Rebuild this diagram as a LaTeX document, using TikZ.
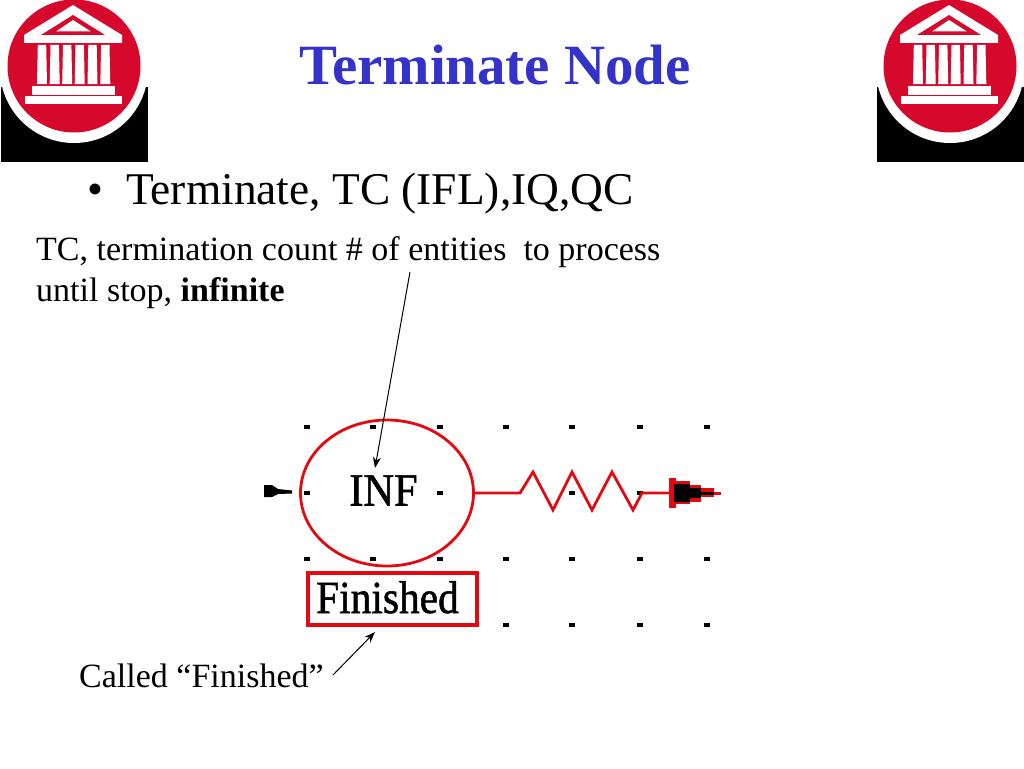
\documentclass[tikz,border=0pt]{standalone}
\usepackage{fontspec}
\setmainfont{Liberation Serif}
\usetikzlibrary{shapes.geometric, positioning, arrows.meta}
\definecolor{slideBlue}{RGB}{51,51,204}
\definecolor{logoRed}{RGB}{214,8,44}
\definecolor{flowRed}{RGB}{226,10,16}
\newcommand{\pixtext}[2]{\scalebox{#1}[1]{\fontsize{46}{46}\selectfont\addfontfeature{FakeBold=1.2} #2}}
\tikzset{
  bodytext/.style={inner sep=0pt, align=left, anchor=base west, text=black},
  callout/.style={draw=black, line width=1pt, -{Stealth[length=11pt, width=8pt]}},
  redline/.style={draw=flowRed, line width=2.8pt},
  gridmark/.style={fill=black, minimum width=6pt, minimum height=3.5pt, inner sep=0pt, outer sep=0pt},
  banklogo/.pic={
    \fill[black] (1,87) rectangle (148,162);
    \fill[white] (74,69) circle (74);
    \fill[logoRed] (74,66) circle (66.5);
    \fill[white] (73,5) -- (122,35) -- (122,43) -- (24,43) -- (24,35) -- cycle;
    \fill[logoRed] (73,15) -- (105,35) -- (41,35) -- cycle;
    \fill[white] (73,20) -- (91,31.5) -- (56,31.5) -- cycle;
    \foreach \colx in {42,54.7,67.2,79.7,92.5,105.3} {
      \fill[white] (\colx-4.2,45) -- (\colx+4.2,45) -- (\colx+5,84) -- (\colx-5,84) -- cycle;
    }
    \fill[white] (32,86) rectangle (115,94.5);
    \fill[white] (25,96) rectangle (122,104);
  }
}

\begin{document}
\begin{tikzpicture}[x=1pt, y=-1pt]
  \useasboundingbox (0,0) rectangle (1024,768);

  \pic at (0,0) {banklogo};
  \pic at (876,0) {banklogo};

  \node[inner sep=0pt, anchor=base, text=slideBlue, font=\fontsize{56.9}{60}\selectfont\bfseries] (title) at (495,84) {Terminate Node};
  \node[bodytext, font=\fontsize{45.4}{50}\selectfont] (bulletmark) at (87,204) {•};
  \node[bodytext, font=\fontsize{45.4}{50}\selectfont] (bulletline) at (126,204) {Terminate, TC (IFL),IQ,QC};
  \node[bodytext, font=\fontsize{34}{38}\selectfont] (tcline) at (36,260) {TC, termination count \# of entities\ \ to process};
  \node[bodytext, font=\fontsize{34}{38}\selectfont] (stopline) at (36,301) {until stop, \textbf{infinite}};
  \node[bodytext, font=\fontsize{34}{38}\selectfont] (called) at (79,687) {Called “Finished”};

  % grid of the model window
  \foreach \gx in {307,373,440,506,572,640,707} {
    \node[gridmark] (top\gx) at (\gx,427) {};
    \node[gridmark] (mid\gx) at (\gx,559) {};
  }
  \foreach \gx in {506,572,640,707} {
    \node[gridmark] (low\gx) at (\gx,625) {};
  }
  \foreach \gx in {307,440,572,640} {
    \node[gridmark] (row\gx) at (\gx,493) {};
  }

  \node[redline, draw, ellipse, minimum width=173pt, minimum height=146pt, inner sep=0pt] (termnode) at (387,493) {};
  \node[inner sep=0pt, anchor=base] (inflabel) at (383.5,505.5) {\pixtext{0.92}{INF}};
  \node[redline, draw, line width=3.2pt, minimum width=169pt, minimum height=52pt, inner sep=0pt] (namebox) at (392.5,599) {};
  \node[inner sep=0pt, anchor=base west] (namelabel) at (316,613) {\pixtext{0.90}{Finished}};

  % stub on the way in
  \fill[black] (264,485) -- (272,485) -- (278,489) -- (292,490.5) -- (292,493.5) -- (278,494) -- (272,497) -- (264,497) -- cycle;

  % spring and output arrow
  \coordinate (springin) at (520,493);
  \coordinate (springout) at (642,493);
  \coordinate (outbar) at (670,493);
  \draw[redline] (termnode.east) -- (springin) -- (533,472) -- (553,510) -- (572,472) -- (592,510) -- (612,472) -- (633,510) -- (springout) -- (outbar);
  \fill[flowRed] (669,478) rectangle (676,508);
  \fill[flowRed] (676,481) rectangle (690,504);
  \fill[flowRed] (690,485) rectangle (701,502);
  \fill[flowRed] (701,488) rectangle (714,497);
  \fill[flowRed] (714,491.5) rectangle (721,494.5);
  \fill[black] (674,484) rectangle (690,502);
  \fill[black] (690,488) rectangle (701,498);
  \fill[black] (701,492) rectangle (714,495);

  % callouts
  \coordinate (tcfoot) at (410,272);
  \coordinate (inftop) at (375,468);
  \coordinate (calledtail) at (333,675);
  \coordinate (boxfoot) at (375,632);
  \draw[callout] (tcfoot) -- (inftop);
  \draw[callout] (calledtail) -- (boxfoot);
\end{tikzpicture}
\end{document}
